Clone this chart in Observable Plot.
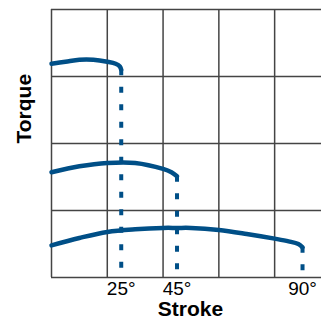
<!DOCTYPE html>
<html><head><meta charset="utf-8">
<script src="https://cdn.jsdelivr.net/npm/d3@7"></script>
<script src="https://cdn.jsdelivr.net/npm/@observablehq/plot@0.6"></script>
<style>body{margin:0;background:#fff}</style>
</head><body><div id="chart"></div>
<script>
// Stroke (degrees) tick labels and grid positions
const strokeTicks = [25, 45, 90];
const gridStroke = [0, 20, 40, 60, 80];
const gridTorque = [0, 1, 2, 3, 4];

// Curve ending at 25°
const c25Stroke = [0, 5, 10, 15, 20, 23, 24.5, 25];
const c25Torque = [3.19, 3.22, 3.25, 3.25, 3.22, 3.19, 3.15, 3.10];
// Curve ending at 45°
const c45Stroke = [0, 10, 20, 30, 40, 43, 45];
const c45Torque = [1.57, 1.66, 1.71, 1.71, 1.62, 1.57, 1.51];
// Curve ending at 90°
const c90Stroke = [0, 10, 20, 30, 40, 45, 50, 60, 70, 80, 85, 88.5, 90];
const c90Torque = [0.48, 0.59, 0.68, 0.72, 0.74, 0.74, 0.74, 0.71, 0.65, 0.58, 0.54, 0.50, 0.45];

const color = "#004f87";
const curves = [
  {name: "25", xs: c25Stroke, ys: c25Torque},
  {name: "45", xs: c45Stroke, ys: c45Torque},
  {name: "90", xs: c90Stroke, ys: c90Torque}
];
const pts = curves.flatMap(c => c.xs.map((x, i) => ({series: c.name, stroke: x, torque: c.ys[i]})));
const ends = curves.map(c => ({stroke: c.xs[c.xs.length - 1], torque: c.ys[c.ys.length - 1]}));

const chart = Plot.plot({
  width: 321,
  height: 319,
  marginLeft: 51,
  marginRight: 0,
  marginTop: 9,
  marginBottom: 42,
  style: {fontFamily: "'Liberation Sans', Arial, sans-serif", fontSize: "20px", background: "white", color: "black"},
  x: {domain: [0, 96.8]},
  y: {domain: [0, 4]},
  marks: [
    Plot.ruleX(gridStroke, {stroke: "#444", strokeWidth: 1.5}),
    Plot.ruleY(gridTorque, {stroke: "#444", strokeWidth: 1.5}),
    Plot.line(pts, {x: "stroke", y: "torque", z: "series", stroke: color, strokeWidth: 4.5, curve: "catmull-rom"}),
    Plot.ruleX(ends, {x: "stroke", y1: "torque", y2: 0, stroke: color, strokeWidth: 4, strokeDasharray: "6,11.5"}),
    Plot.axisX(strokeTicks, {tickSize: 0, tickPadding: 4, tickFormat: d => d + "°", fontSize: 19, label: null}),
    Plot.axisY({ticks: [], label: null}),
    Plot.text(["Stroke"], {frameAnchor: "bottom", dx: 4, dy: 32, fontWeight: "bold", fontSize: 21, lineAnchor: "middle"}),
    Plot.text(["Torque"], {frameAnchor: "left", dx: -27, rotate: -90, fontWeight: "bold", fontSize: 21})
  ]
});
document.getElementById("chart").appendChild(chart);
</script>
</body></html>
